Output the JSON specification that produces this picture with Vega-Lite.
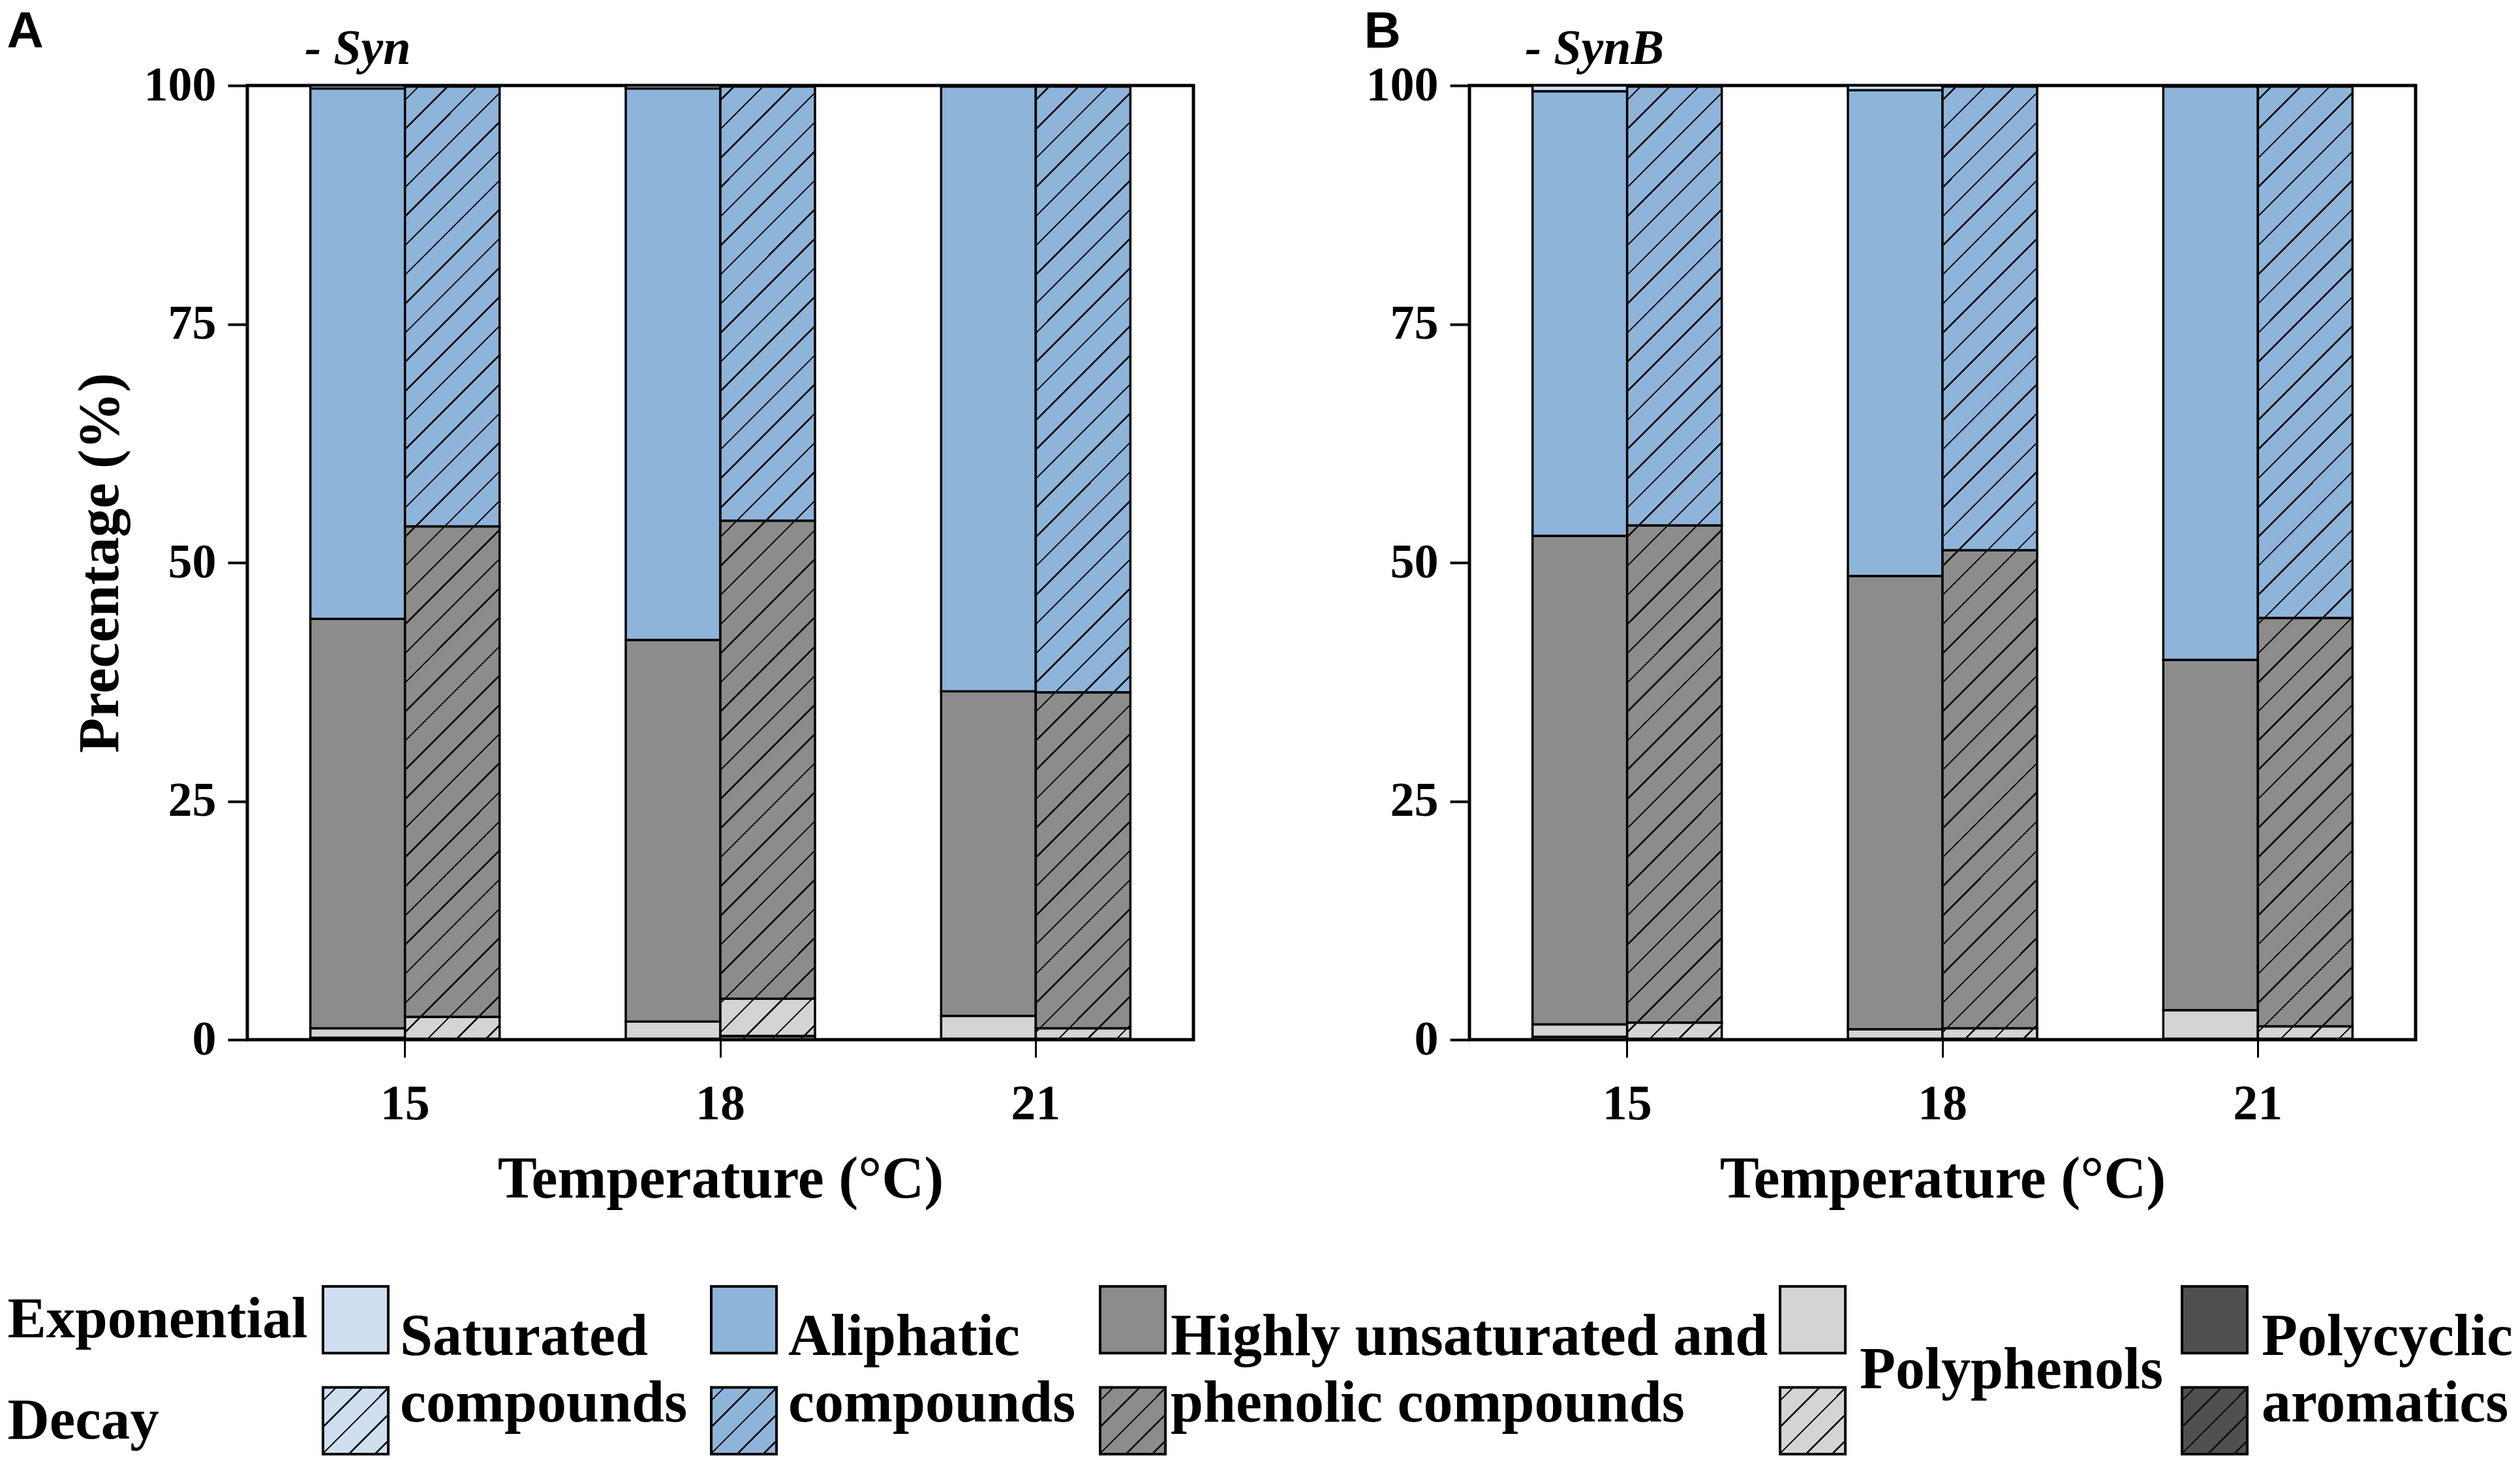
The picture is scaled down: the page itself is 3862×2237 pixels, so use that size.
{
  "$schema": "https://vega.github.io/schema/vega-lite/v6.json",
  "background": "white",
  "padding": {"left": 10, "top": 10, "right": 0, "bottom": 0},
  "datasets": {
    "comp": [
      {"panel": "A", "temp": "15", "phase": "Exponential", "compound": "Polycyclic aromatics", "value": 0.2},
      {"panel": "A", "temp": "15", "phase": "Exponential", "compound": "Polyphenols", "value": 1.0},
      {"panel": "A", "temp": "15", "phase": "Exponential", "compound": "Highly unsaturated and phenolic compounds", "value": 42.9},
      {"panel": "A", "temp": "15", "phase": "Exponential", "compound": "Aliphatic compounds", "value": 55.6},
      {"panel": "A", "temp": "15", "phase": "Exponential", "compound": "Saturated compounds", "value": 0.3},
      {"panel": "A", "temp": "15", "phase": "Decay", "compound": "Polycyclic aromatics", "value": 0.1},
      {"panel": "A", "temp": "15", "phase": "Decay", "compound": "Polyphenols", "value": 2.3},
      {"panel": "A", "temp": "15", "phase": "Decay", "compound": "Highly unsaturated and phenolic compounds", "value": 51.4},
      {"panel": "A", "temp": "15", "phase": "Decay", "compound": "Aliphatic compounds", "value": 46.1},
      {"panel": "A", "temp": "15", "phase": "Decay", "compound": "Saturated compounds", "value": 0.1},
      {"panel": "A", "temp": "18", "phase": "Exponential", "compound": "Polycyclic aromatics", "value": 0.1},
      {"panel": "A", "temp": "18", "phase": "Exponential", "compound": "Polyphenols", "value": 1.8},
      {"panel": "A", "temp": "18", "phase": "Exponential", "compound": "Highly unsaturated and phenolic compounds", "value": 40.0},
      {"panel": "A", "temp": "18", "phase": "Exponential", "compound": "Aliphatic compounds", "value": 57.8},
      {"panel": "A", "temp": "18", "phase": "Exponential", "compound": "Saturated compounds", "value": 0.3},
      {"panel": "A", "temp": "18", "phase": "Decay", "compound": "Polycyclic aromatics", "value": 0.4},
      {"panel": "A", "temp": "18", "phase": "Decay", "compound": "Polyphenols", "value": 3.9},
      {"panel": "A", "temp": "18", "phase": "Decay", "compound": "Highly unsaturated and phenolic compounds", "value": 50.1},
      {"panel": "A", "temp": "18", "phase": "Decay", "compound": "Aliphatic compounds", "value": 45.5},
      {"panel": "A", "temp": "18", "phase": "Decay", "compound": "Saturated compounds", "value": 0.1},
      {"panel": "A", "temp": "21", "phase": "Exponential", "compound": "Polycyclic aromatics", "value": 0.1},
      {"panel": "A", "temp": "21", "phase": "Exponential", "compound": "Polyphenols", "value": 2.4},
      {"panel": "A", "temp": "21", "phase": "Exponential", "compound": "Highly unsaturated and phenolic compounds", "value": 34.0},
      {"panel": "A", "temp": "21", "phase": "Exponential", "compound": "Aliphatic compounds", "value": 63.4},
      {"panel": "A", "temp": "21", "phase": "Exponential", "compound": "Saturated compounds", "value": 0.1},
      {"panel": "A", "temp": "21", "phase": "Decay", "compound": "Polycyclic aromatics", "value": 0.1},
      {"panel": "A", "temp": "21", "phase": "Decay", "compound": "Polyphenols", "value": 1.1},
      {"panel": "A", "temp": "21", "phase": "Decay", "compound": "Highly unsaturated and phenolic compounds", "value": 35.2},
      {"panel": "A", "temp": "21", "phase": "Decay", "compound": "Aliphatic compounds", "value": 63.5},
      {"panel": "A", "temp": "21", "phase": "Decay", "compound": "Saturated compounds", "value": 0.1},
      {"panel": "B", "temp": "15", "phase": "Exponential", "compound": "Polycyclic aromatics", "value": 0.3},
      {"panel": "B", "temp": "15", "phase": "Exponential", "compound": "Polyphenols", "value": 1.3},
      {"panel": "B", "temp": "15", "phase": "Exponential", "compound": "Highly unsaturated and phenolic compounds", "value": 51.2},
      {"panel": "B", "temp": "15", "phase": "Exponential", "compound": "Aliphatic compounds", "value": 46.6},
      {"panel": "B", "temp": "15", "phase": "Exponential", "compound": "Saturated compounds", "value": 0.6},
      {"panel": "B", "temp": "15", "phase": "Decay", "compound": "Polycyclic aromatics", "value": 0.1},
      {"panel": "B", "temp": "15", "phase": "Decay", "compound": "Polyphenols", "value": 1.7},
      {"panel": "B", "temp": "15", "phase": "Decay", "compound": "Highly unsaturated and phenolic compounds", "value": 52.1},
      {"panel": "B", "temp": "15", "phase": "Decay", "compound": "Aliphatic compounds", "value": 46.0},
      {"panel": "B", "temp": "15", "phase": "Decay", "compound": "Saturated compounds", "value": 0.1},
      {"panel": "B", "temp": "18", "phase": "Exponential", "compound": "Polycyclic aromatics", "value": 0.1},
      {"panel": "B", "temp": "18", "phase": "Exponential", "compound": "Polyphenols", "value": 1.0},
      {"panel": "B", "temp": "18", "phase": "Exponential", "compound": "Highly unsaturated and phenolic compounds", "value": 47.5},
      {"panel": "B", "temp": "18", "phase": "Exponential", "compound": "Aliphatic compounds", "value": 50.9},
      {"panel": "B", "temp": "18", "phase": "Exponential", "compound": "Saturated compounds", "value": 0.5},
      {"panel": "B", "temp": "18", "phase": "Decay", "compound": "Polycyclic aromatics", "value": 0.1},
      {"panel": "B", "temp": "18", "phase": "Decay", "compound": "Polyphenols", "value": 1.1},
      {"panel": "B", "temp": "18", "phase": "Decay", "compound": "Highly unsaturated and phenolic compounds", "value": 50.1},
      {"panel": "B", "temp": "18", "phase": "Decay", "compound": "Aliphatic compounds", "value": 48.6},
      {"panel": "B", "temp": "18", "phase": "Decay", "compound": "Saturated compounds", "value": 0.1},
      {"panel": "B", "temp": "21", "phase": "Exponential", "compound": "Polycyclic aromatics", "value": 0.1},
      {"panel": "B", "temp": "21", "phase": "Exponential", "compound": "Polyphenols", "value": 3.0},
      {"panel": "B", "temp": "21", "phase": "Exponential", "compound": "Highly unsaturated and phenolic compounds", "value": 36.7},
      {"panel": "B", "temp": "21", "phase": "Exponential", "compound": "Aliphatic compounds", "value": 60.1},
      {"panel": "B", "temp": "21", "phase": "Exponential", "compound": "Saturated compounds", "value": 0.1},
      {"panel": "B", "temp": "21", "phase": "Decay", "compound": "Polycyclic aromatics", "value": 0.1},
      {"panel": "B", "temp": "21", "phase": "Decay", "compound": "Polyphenols", "value": 1.3},
      {"panel": "B", "temp": "21", "phase": "Decay", "compound": "Highly unsaturated and phenolic compounds", "value": 42.8},
      {"panel": "B", "temp": "21", "phase": "Decay", "compound": "Aliphatic compounds", "value": 55.7},
      {"panel": "B", "temp": "21", "phase": "Decay", "compound": "Saturated compounds", "value": 0.1}
    ],
    "legend": [
      {"compound": "Saturated compounds", "phase": "Exponential"},
      {"compound": "Saturated compounds", "phase": "Decay"},
      {"compound": "Aliphatic compounds", "phase": "Exponential"},
      {"compound": "Aliphatic compounds", "phase": "Decay"},
      {"compound": "Highly unsaturated and phenolic compounds", "phase": "Exponential"},
      {"compound": "Highly unsaturated and phenolic compounds", "phase": "Decay"},
      {"compound": "Polyphenols", "phase": "Exponential"},
      {"compound": "Polyphenols", "phase": "Decay"},
      {"compound": "Polycyclic aromatics", "phase": "Exponential"},
      {"compound": "Polycyclic aromatics", "phase": "Decay"}
    ]
  },
  "config": {
    "font": "Liberation Serif",
    "view": {"stroke": null},
    "axis": {
      "labelFont": "Liberation Serif", "titleFont": "Liberation Serif",
      "labelFontWeight": "bold", "titleFontWeight": "bold",
      "labelColor": "black", "titleColor": "black", "tickColor": "black",
      "domain": false, "grid": false
    },
    "axisX": {"tickSize": 27, "tickWidth": 3, "labelFontSize": 76, "labelPadding": 34, "labelAngle": 0, "titleFontSize": 90, "titlePadding": 34},
    "axisY": {"tickSize": 30, "tickWidth": 4, "labelFontSize": 74, "labelPadding": 18, "titleFontSize": 88, "titlePadding": 22},
    "text": {"font": "Liberation Serif", "fontWeight": "bold", "fontSize": 90, "color": "black"}
  },
  "columns": 1,
  "align": "none",
  "spacing": 114,
  "concat": [
    {
      "spacing": 258,
      "hconcat": [
        {
          "title": {"text": "A", "anchor": "start", "frame": "bounds", "dx": -97, "offset": -116, "font": "Liberation Sans", "fontSize": 78, "fontWeight": "bold", "baseline": "alphabetic", "color": "black"},
          "hconcat": [
            {
              "width": 1450, "height": 1462,
              "view": {"stroke": "black", "strokeWidth": 5},
              "title": {"text": "- Syn", "anchor": "start", "frame": "group", "dx": 88, "offset": -80, "font": "Liberation Serif", "fontStyle": "italic", "fontWeight": "bold", "fontSize": 76, "baseline": "alphabetic", "color": "black"},
              "data": {"name": "comp"},
              "transform": [
                {"filter": "datum.panel === 'A'"},
                {"calculate": "indexof(['Polycyclic aromatics', 'Polyphenols', 'Highly unsaturated and phenolic compounds', 'Aliphatic compounds', 'Saturated compounds'], datum.compound)", "as": "stackOrder"}
              ],
              "encoding": {
                "x": {"field": "temp", "type": "nominal", "sort": ["15", "18", "21"], "title": "Temperature (°C)", "scale": {"paddingInner": 0.4, "paddingOuter": 0.2}},
                "xOffset": {"field": "phase", "type": "nominal", "sort": ["Exponential", "Decay"], "scale": {"domain": ["Exponential", "Decay"], "paddingInner": 0, "paddingOuter": 0}}
              },
              "layer": [
                {
                  "mark": {"type": "bar", "stroke": "black", "strokeWidth": 3.5},
                  "encoding": {
                    "y": {"field": "value", "type": "quantitative", "stack": "zero", "title": "Precentage (%)", "scale": {"domain": [0, 100], "nice": false}, "axis": {"values": [0, 25, 50, 75, 100]}},
                    "fill": {"field": "compound", "type": "nominal", "legend": null, "scale": {"domain": ["Saturated compounds", "Aliphatic compounds", "Highly unsaturated and phenolic compounds", "Polyphenols", "Polycyclic aromatics"], "range": ["#CFDFF0", "#8FB4DA", "#8C8C8C", "#D4D4D4", "#505050"]}},
                    "order": {"field": "stackOrder", "type": "quantitative", "sort": "ascending"}
                  }
                },
                {
                  "transform": [
                    {"filter": "datum.phase === 'Decay'"},
                    {"aggregate": [{"op": "sum", "field": "value", "as": "total"}], "groupby": ["temp", "phase"]}
                  ],
                  "mark": {"type": "bar", "strokeWidth": 0, "fill": {"gradient": "linear", "x1": 0, "y1": 0, "x2": 0.108, "y2": 1.0885, "stops": [
                    {"offset": 0.01279, "color": "rgba(0,0,0,0)"}, {"offset": 0.01279, "color": "#111"}, {"offset": 0.01499, "color": "#111"}, {"offset": 0.01499, "color": "rgba(0,0,0,0)"},
                    {"offset": 0.04057, "color": "rgba(0,0,0,0)"}, {"offset": 0.04057, "color": "#111"}, {"offset": 0.04277, "color": "#111"}, {"offset": 0.04277, "color": "rgba(0,0,0,0)"},
                    {"offset": 0.06834, "color": "rgba(0,0,0,0)"}, {"offset": 0.06834, "color": "#111"}, {"offset": 0.07054, "color": "#111"}, {"offset": 0.07054, "color": "rgba(0,0,0,0)"},
                    {"offset": 0.09612, "color": "rgba(0,0,0,0)"}, {"offset": 0.09612, "color": "#111"}, {"offset": 0.09832, "color": "#111"}, {"offset": 0.09832, "color": "rgba(0,0,0,0)"},
                    {"offset": 0.12390, "color": "rgba(0,0,0,0)"}, {"offset": 0.12390, "color": "#111"}, {"offset": 0.12610, "color": "#111"}, {"offset": 0.12610, "color": "rgba(0,0,0,0)"},
                    {"offset": 0.15168, "color": "rgba(0,0,0,0)"}, {"offset": 0.15168, "color": "#111"}, {"offset": 0.15388, "color": "#111"}, {"offset": 0.15388, "color": "rgba(0,0,0,0)"},
                    {"offset": 0.17946, "color": "rgba(0,0,0,0)"}, {"offset": 0.17946, "color": "#111"}, {"offset": 0.18166, "color": "#111"}, {"offset": 0.18166, "color": "rgba(0,0,0,0)"},
                    {"offset": 0.20723, "color": "rgba(0,0,0,0)"}, {"offset": 0.20723, "color": "#111"}, {"offset": 0.20943, "color": "#111"}, {"offset": 0.20943, "color": "rgba(0,0,0,0)"},
                    {"offset": 0.23501, "color": "rgba(0,0,0,0)"}, {"offset": 0.23501, "color": "#111"}, {"offset": 0.23721, "color": "#111"}, {"offset": 0.23721, "color": "rgba(0,0,0,0)"},
                    {"offset": 0.26279, "color": "rgba(0,0,0,0)"}, {"offset": 0.26279, "color": "#111"}, {"offset": 0.26499, "color": "#111"}, {"offset": 0.26499, "color": "rgba(0,0,0,0)"},
                    {"offset": 0.29057, "color": "rgba(0,0,0,0)"}, {"offset": 0.29057, "color": "#111"}, {"offset": 0.29277, "color": "#111"}, {"offset": 0.29277, "color": "rgba(0,0,0,0)"},
                    {"offset": 0.31834, "color": "rgba(0,0,0,0)"}, {"offset": 0.31834, "color": "#111"}, {"offset": 0.32054, "color": "#111"}, {"offset": 0.32054, "color": "rgba(0,0,0,0)"},
                    {"offset": 0.34612, "color": "rgba(0,0,0,0)"}, {"offset": 0.34612, "color": "#111"}, {"offset": 0.34832, "color": "#111"}, {"offset": 0.34832, "color": "rgba(0,0,0,0)"},
                    {"offset": 0.37390, "color": "rgba(0,0,0,0)"}, {"offset": 0.37390, "color": "#111"}, {"offset": 0.37610, "color": "#111"}, {"offset": 0.37610, "color": "rgba(0,0,0,0)"},
                    {"offset": 0.40168, "color": "rgba(0,0,0,0)"}, {"offset": 0.40168, "color": "#111"}, {"offset": 0.40388, "color": "#111"}, {"offset": 0.40388, "color": "rgba(0,0,0,0)"},
                    {"offset": 0.42946, "color": "rgba(0,0,0,0)"}, {"offset": 0.42946, "color": "#111"}, {"offset": 0.43166, "color": "#111"}, {"offset": 0.43166, "color": "rgba(0,0,0,0)"},
                    {"offset": 0.45723, "color": "rgba(0,0,0,0)"}, {"offset": 0.45723, "color": "#111"}, {"offset": 0.45943, "color": "#111"}, {"offset": 0.45943, "color": "rgba(0,0,0,0)"},
                    {"offset": 0.48501, "color": "rgba(0,0,0,0)"}, {"offset": 0.48501, "color": "#111"}, {"offset": 0.48721, "color": "#111"}, {"offset": 0.48721, "color": "rgba(0,0,0,0)"},
                    {"offset": 0.51279, "color": "rgba(0,0,0,0)"}, {"offset": 0.51279, "color": "#111"}, {"offset": 0.51499, "color": "#111"}, {"offset": 0.51499, "color": "rgba(0,0,0,0)"},
                    {"offset": 0.54057, "color": "rgba(0,0,0,0)"}, {"offset": 0.54057, "color": "#111"}, {"offset": 0.54277, "color": "#111"}, {"offset": 0.54277, "color": "rgba(0,0,0,0)"},
                    {"offset": 0.56834, "color": "rgba(0,0,0,0)"}, {"offset": 0.56834, "color": "#111"}, {"offset": 0.57054, "color": "#111"}, {"offset": 0.57054, "color": "rgba(0,0,0,0)"},
                    {"offset": 0.59612, "color": "rgba(0,0,0,0)"}, {"offset": 0.59612, "color": "#111"}, {"offset": 0.59832, "color": "#111"}, {"offset": 0.59832, "color": "rgba(0,0,0,0)"},
                    {"offset": 0.62390, "color": "rgba(0,0,0,0)"}, {"offset": 0.62390, "color": "#111"}, {"offset": 0.62610, "color": "#111"}, {"offset": 0.62610, "color": "rgba(0,0,0,0)"},
                    {"offset": 0.65168, "color": "rgba(0,0,0,0)"}, {"offset": 0.65168, "color": "#111"}, {"offset": 0.65388, "color": "#111"}, {"offset": 0.65388, "color": "rgba(0,0,0,0)"},
                    {"offset": 0.67946, "color": "rgba(0,0,0,0)"}, {"offset": 0.67946, "color": "#111"}, {"offset": 0.68166, "color": "#111"}, {"offset": 0.68166, "color": "rgba(0,0,0,0)"},
                    {"offset": 0.70723, "color": "rgba(0,0,0,0)"}, {"offset": 0.70723, "color": "#111"}, {"offset": 0.70943, "color": "#111"}, {"offset": 0.70943, "color": "rgba(0,0,0,0)"},
                    {"offset": 0.73501, "color": "rgba(0,0,0,0)"}, {"offset": 0.73501, "color": "#111"}, {"offset": 0.73721, "color": "#111"}, {"offset": 0.73721, "color": "rgba(0,0,0,0)"},
                    {"offset": 0.76279, "color": "rgba(0,0,0,0)"}, {"offset": 0.76279, "color": "#111"}, {"offset": 0.76499, "color": "#111"}, {"offset": 0.76499, "color": "rgba(0,0,0,0)"},
                    {"offset": 0.79057, "color": "rgba(0,0,0,0)"}, {"offset": 0.79057, "color": "#111"}, {"offset": 0.79277, "color": "#111"}, {"offset": 0.79277, "color": "rgba(0,0,0,0)"},
                    {"offset": 0.81834, "color": "rgba(0,0,0,0)"}, {"offset": 0.81834, "color": "#111"}, {"offset": 0.82054, "color": "#111"}, {"offset": 0.82054, "color": "rgba(0,0,0,0)"},
                    {"offset": 0.84612, "color": "rgba(0,0,0,0)"}, {"offset": 0.84612, "color": "#111"}, {"offset": 0.84832, "color": "#111"}, {"offset": 0.84832, "color": "rgba(0,0,0,0)"},
                    {"offset": 0.87390, "color": "rgba(0,0,0,0)"}, {"offset": 0.87390, "color": "#111"}, {"offset": 0.87610, "color": "#111"}, {"offset": 0.87610, "color": "rgba(0,0,0,0)"},
                    {"offset": 0.90168, "color": "rgba(0,0,0,0)"}, {"offset": 0.90168, "color": "#111"}, {"offset": 0.90388, "color": "#111"}, {"offset": 0.90388, "color": "rgba(0,0,0,0)"},
                    {"offset": 0.92946, "color": "rgba(0,0,0,0)"}, {"offset": 0.92946, "color": "#111"}, {"offset": 0.93166, "color": "#111"}, {"offset": 0.93166, "color": "rgba(0,0,0,0)"},
                    {"offset": 0.95723, "color": "rgba(0,0,0,0)"}, {"offset": 0.95723, "color": "#111"}, {"offset": 0.95943, "color": "#111"}, {"offset": 0.95943, "color": "rgba(0,0,0,0)"},
                    {"offset": 0.98501, "color": "rgba(0,0,0,0)"}, {"offset": 0.98501, "color": "#111"}, {"offset": 0.98721, "color": "#111"}, {"offset": 0.98721, "color": "rgba(0,0,0,0)"}
                  ]}},
                  "encoding": {
                    "y": {"field": "total", "type": "quantitative", "title": "Precentage (%)", "scale": {"domain": [0, 100], "nice": false}, "axis": {"values": [0, 25, 50, 75, 100]}}
                  }
                }
              ]
            }
          ]
        },
        {
          "title": {"text": "B", "anchor": "start", "frame": "bounds", "dx": 0, "offset": -116, "font": "Liberation Sans", "fontSize": 78, "fontWeight": "bold", "baseline": "alphabetic", "color": "black"},
          "hconcat": [
            {
              "width": 1450, "height": 1462,
              "view": {"stroke": "black", "strokeWidth": 5},
              "title": {"text": "- SynB", "anchor": "start", "frame": "group", "dx": 85, "offset": -80, "font": "Liberation Serif", "fontStyle": "italic", "fontWeight": "bold", "fontSize": 76, "baseline": "alphabetic", "color": "black"},
              "data": {"name": "comp"},
              "transform": [
                {"filter": "datum.panel === 'B'"},
                {"calculate": "indexof(['Polycyclic aromatics', 'Polyphenols', 'Highly unsaturated and phenolic compounds', 'Aliphatic compounds', 'Saturated compounds'], datum.compound)", "as": "stackOrder"}
              ],
              "encoding": {
                "x": {"field": "temp", "type": "nominal", "sort": ["15", "18", "21"], "title": "Temperature (°C)", "scale": {"paddingInner": 0.4, "paddingOuter": 0.2}},
                "xOffset": {"field": "phase", "type": "nominal", "sort": ["Exponential", "Decay"], "scale": {"domain": ["Exponential", "Decay"], "paddingInner": 0, "paddingOuter": 0}}
              },
              "layer": [
                {
                  "mark": {"type": "bar", "stroke": "black", "strokeWidth": 3.5},
                  "encoding": {
                    "y": {"field": "value", "type": "quantitative", "stack": "zero", "title": null, "scale": {"domain": [0, 100], "nice": false}, "axis": {"values": [0, 25, 50, 75, 100]}},
                    "fill": {"field": "compound", "type": "nominal", "legend": null, "scale": {"domain": ["Saturated compounds", "Aliphatic compounds", "Highly unsaturated and phenolic compounds", "Polyphenols", "Polycyclic aromatics"], "range": ["#CFDFF0", "#8FB4DA", "#8C8C8C", "#D4D4D4", "#505050"]}},
                    "order": {"field": "stackOrder", "type": "quantitative", "sort": "ascending"}
                  }
                },
                {
                  "transform": [
                    {"filter": "datum.phase === 'Decay'"},
                    {"aggregate": [{"op": "sum", "field": "value", "as": "total"}], "groupby": ["temp", "phase"]}
                  ],
                  "mark": {"type": "bar", "strokeWidth": 0, "fill": {"gradient": "linear", "x1": 0, "y1": 0, "x2": 0.108, "y2": 1.0885, "stops": [
                    {"offset": 0.01279, "color": "rgba(0,0,0,0)"}, {"offset": 0.01279, "color": "#111"}, {"offset": 0.01499, "color": "#111"}, {"offset": 0.01499, "color": "rgba(0,0,0,0)"},
                    {"offset": 0.04057, "color": "rgba(0,0,0,0)"}, {"offset": 0.04057, "color": "#111"}, {"offset": 0.04277, "color": "#111"}, {"offset": 0.04277, "color": "rgba(0,0,0,0)"},
                    {"offset": 0.06834, "color": "rgba(0,0,0,0)"}, {"offset": 0.06834, "color": "#111"}, {"offset": 0.07054, "color": "#111"}, {"offset": 0.07054, "color": "rgba(0,0,0,0)"},
                    {"offset": 0.09612, "color": "rgba(0,0,0,0)"}, {"offset": 0.09612, "color": "#111"}, {"offset": 0.09832, "color": "#111"}, {"offset": 0.09832, "color": "rgba(0,0,0,0)"},
                    {"offset": 0.12390, "color": "rgba(0,0,0,0)"}, {"offset": 0.12390, "color": "#111"}, {"offset": 0.12610, "color": "#111"}, {"offset": 0.12610, "color": "rgba(0,0,0,0)"},
                    {"offset": 0.15168, "color": "rgba(0,0,0,0)"}, {"offset": 0.15168, "color": "#111"}, {"offset": 0.15388, "color": "#111"}, {"offset": 0.15388, "color": "rgba(0,0,0,0)"},
                    {"offset": 0.17946, "color": "rgba(0,0,0,0)"}, {"offset": 0.17946, "color": "#111"}, {"offset": 0.18166, "color": "#111"}, {"offset": 0.18166, "color": "rgba(0,0,0,0)"},
                    {"offset": 0.20723, "color": "rgba(0,0,0,0)"}, {"offset": 0.20723, "color": "#111"}, {"offset": 0.20943, "color": "#111"}, {"offset": 0.20943, "color": "rgba(0,0,0,0)"},
                    {"offset": 0.23501, "color": "rgba(0,0,0,0)"}, {"offset": 0.23501, "color": "#111"}, {"offset": 0.23721, "color": "#111"}, {"offset": 0.23721, "color": "rgba(0,0,0,0)"},
                    {"offset": 0.26279, "color": "rgba(0,0,0,0)"}, {"offset": 0.26279, "color": "#111"}, {"offset": 0.26499, "color": "#111"}, {"offset": 0.26499, "color": "rgba(0,0,0,0)"},
                    {"offset": 0.29057, "color": "rgba(0,0,0,0)"}, {"offset": 0.29057, "color": "#111"}, {"offset": 0.29277, "color": "#111"}, {"offset": 0.29277, "color": "rgba(0,0,0,0)"},
                    {"offset": 0.31834, "color": "rgba(0,0,0,0)"}, {"offset": 0.31834, "color": "#111"}, {"offset": 0.32054, "color": "#111"}, {"offset": 0.32054, "color": "rgba(0,0,0,0)"},
                    {"offset": 0.34612, "color": "rgba(0,0,0,0)"}, {"offset": 0.34612, "color": "#111"}, {"offset": 0.34832, "color": "#111"}, {"offset": 0.34832, "color": "rgba(0,0,0,0)"},
                    {"offset": 0.37390, "color": "rgba(0,0,0,0)"}, {"offset": 0.37390, "color": "#111"}, {"offset": 0.37610, "color": "#111"}, {"offset": 0.37610, "color": "rgba(0,0,0,0)"},
                    {"offset": 0.40168, "color": "rgba(0,0,0,0)"}, {"offset": 0.40168, "color": "#111"}, {"offset": 0.40388, "color": "#111"}, {"offset": 0.40388, "color": "rgba(0,0,0,0)"},
                    {"offset": 0.42946, "color": "rgba(0,0,0,0)"}, {"offset": 0.42946, "color": "#111"}, {"offset": 0.43166, "color": "#111"}, {"offset": 0.43166, "color": "rgba(0,0,0,0)"},
                    {"offset": 0.45723, "color": "rgba(0,0,0,0)"}, {"offset": 0.45723, "color": "#111"}, {"offset": 0.45943, "color": "#111"}, {"offset": 0.45943, "color": "rgba(0,0,0,0)"},
                    {"offset": 0.48501, "color": "rgba(0,0,0,0)"}, {"offset": 0.48501, "color": "#111"}, {"offset": 0.48721, "color": "#111"}, {"offset": 0.48721, "color": "rgba(0,0,0,0)"},
                    {"offset": 0.51279, "color": "rgba(0,0,0,0)"}, {"offset": 0.51279, "color": "#111"}, {"offset": 0.51499, "color": "#111"}, {"offset": 0.51499, "color": "rgba(0,0,0,0)"},
                    {"offset": 0.54057, "color": "rgba(0,0,0,0)"}, {"offset": 0.54057, "color": "#111"}, {"offset": 0.54277, "color": "#111"}, {"offset": 0.54277, "color": "rgba(0,0,0,0)"},
                    {"offset": 0.56834, "color": "rgba(0,0,0,0)"}, {"offset": 0.56834, "color": "#111"}, {"offset": 0.57054, "color": "#111"}, {"offset": 0.57054, "color": "rgba(0,0,0,0)"},
                    {"offset": 0.59612, "color": "rgba(0,0,0,0)"}, {"offset": 0.59612, "color": "#111"}, {"offset": 0.59832, "color": "#111"}, {"offset": 0.59832, "color": "rgba(0,0,0,0)"},
                    {"offset": 0.62390, "color": "rgba(0,0,0,0)"}, {"offset": 0.62390, "color": "#111"}, {"offset": 0.62610, "color": "#111"}, {"offset": 0.62610, "color": "rgba(0,0,0,0)"},
                    {"offset": 0.65168, "color": "rgba(0,0,0,0)"}, {"offset": 0.65168, "color": "#111"}, {"offset": 0.65388, "color": "#111"}, {"offset": 0.65388, "color": "rgba(0,0,0,0)"},
                    {"offset": 0.67946, "color": "rgba(0,0,0,0)"}, {"offset": 0.67946, "color": "#111"}, {"offset": 0.68166, "color": "#111"}, {"offset": 0.68166, "color": "rgba(0,0,0,0)"},
                    {"offset": 0.70723, "color": "rgba(0,0,0,0)"}, {"offset": 0.70723, "color": "#111"}, {"offset": 0.70943, "color": "#111"}, {"offset": 0.70943, "color": "rgba(0,0,0,0)"},
                    {"offset": 0.73501, "color": "rgba(0,0,0,0)"}, {"offset": 0.73501, "color": "#111"}, {"offset": 0.73721, "color": "#111"}, {"offset": 0.73721, "color": "rgba(0,0,0,0)"},
                    {"offset": 0.76279, "color": "rgba(0,0,0,0)"}, {"offset": 0.76279, "color": "#111"}, {"offset": 0.76499, "color": "#111"}, {"offset": 0.76499, "color": "rgba(0,0,0,0)"},
                    {"offset": 0.79057, "color": "rgba(0,0,0,0)"}, {"offset": 0.79057, "color": "#111"}, {"offset": 0.79277, "color": "#111"}, {"offset": 0.79277, "color": "rgba(0,0,0,0)"},
                    {"offset": 0.81834, "color": "rgba(0,0,0,0)"}, {"offset": 0.81834, "color": "#111"}, {"offset": 0.82054, "color": "#111"}, {"offset": 0.82054, "color": "rgba(0,0,0,0)"},
                    {"offset": 0.84612, "color": "rgba(0,0,0,0)"}, {"offset": 0.84612, "color": "#111"}, {"offset": 0.84832, "color": "#111"}, {"offset": 0.84832, "color": "rgba(0,0,0,0)"},
                    {"offset": 0.87390, "color": "rgba(0,0,0,0)"}, {"offset": 0.87390, "color": "#111"}, {"offset": 0.87610, "color": "#111"}, {"offset": 0.87610, "color": "rgba(0,0,0,0)"},
                    {"offset": 0.90168, "color": "rgba(0,0,0,0)"}, {"offset": 0.90168, "color": "#111"}, {"offset": 0.90388, "color": "#111"}, {"offset": 0.90388, "color": "rgba(0,0,0,0)"},
                    {"offset": 0.92946, "color": "rgba(0,0,0,0)"}, {"offset": 0.92946, "color": "#111"}, {"offset": 0.93166, "color": "#111"}, {"offset": 0.93166, "color": "rgba(0,0,0,0)"},
                    {"offset": 0.95723, "color": "rgba(0,0,0,0)"}, {"offset": 0.95723, "color": "#111"}, {"offset": 0.95943, "color": "#111"}, {"offset": 0.95943, "color": "rgba(0,0,0,0)"},
                    {"offset": 0.98501, "color": "rgba(0,0,0,0)"}, {"offset": 0.98501, "color": "#111"}, {"offset": 0.98721, "color": "#111"}, {"offset": 0.98721, "color": "rgba(0,0,0,0)"}
                  ]}},
                  "encoding": {
                    "y": {"field": "total", "type": "quantitative", "title": null, "scale": {"domain": [0, 100], "nice": false}, "axis": {"values": [0, 25, 50, 75, 100]}}
                  }
                }
              ]
            }
          ]
        }
      ]
    },
    {
      "spacing": 0,
      "bounds": "flush",
      "hconcat": [
        {
          "width": 711, "height": 257,
          "data": {"name": "legend"},
          "transform": [{"filter": "datum.compound === 'Saturated compounds'"}],
          "encoding": {
            "x": {"field": "compound", "type": "nominal", "axis": null, "scale": {"range": [116, 216], "paddingInner": 0, "paddingOuter": 0}}
          },
          "layer": [
            {"mark": {"type": "rect", "fill": "#CFDFF0", "stroke": "black", "strokeWidth": 4},
             "encoding": {"y": {"field": "phase", "type": "nominal", "sort": ["Exponential", "Decay"], "title": null, "scale": {"paddingInner": 0.34, "paddingOuter": 0},
               "axis": {"labelAlign": "left", "labelBaseline": "middle", "labelPadding": 368, "labelLimit": 0, "ticks": false, "tickSize": 0, "domain": false, "labelFontSize": 89, "labelFont": "Liberation Serif", "labelFontWeight": "bold"}}}},
            {"transform": [{"filter": "datum.phase === 'Decay'"}],
             "mark": {"type": "rect", "strokeWidth": 0, "fill": {"gradient": "linear", "x1": 0, "y1": 0, "x2": 0.9896, "y2": 1.0098, "stops": [
               {"offset": 0.0909, "color": "rgba(0,0,0,0)"}, {"offset": 0.0909, "color": "#111"}, {"offset": 0.1091, "color": "#111"}, {"offset": 0.1091, "color": "rgba(0,0,0,0)"},
               {"offset": 0.2909, "color": "rgba(0,0,0,0)"}, {"offset": 0.2909, "color": "#111"}, {"offset": 0.3091, "color": "#111"}, {"offset": 0.3091, "color": "rgba(0,0,0,0)"},
               {"offset": 0.4909, "color": "rgba(0,0,0,0)"}, {"offset": 0.4909, "color": "#111"}, {"offset": 0.5091, "color": "#111"}, {"offset": 0.5091, "color": "rgba(0,0,0,0)"},
               {"offset": 0.6909, "color": "rgba(0,0,0,0)"}, {"offset": 0.6909, "color": "#111"}, {"offset": 0.7091, "color": "#111"}, {"offset": 0.7091, "color": "rgba(0,0,0,0)"},
               {"offset": 0.8909, "color": "rgba(0,0,0,0)"}, {"offset": 0.8909, "color": "#111"}, {"offset": 0.9091, "color": "#111"}, {"offset": 0.9091, "color": "rgba(0,0,0,0)"}
             ]}},
             "encoding": {"y": {"field": "phase", "type": "nominal", "sort": ["Exponential", "Decay"], "title": null, "scale": {"paddingInner": 0.34, "paddingOuter": 0},
               "axis": {"labelAlign": "left", "labelBaseline": "middle", "labelPadding": 368, "labelLimit": 0, "ticks": false, "tickSize": 0, "domain": false, "labelFontSize": 89, "labelFont": "Liberation Serif", "labelFontWeight": "bold"}}}},
            {"transform": [{"filter": "datum.phase === 'Exponential'"}],
             "mark": {"type": "text", "align": "left", "baseline": "middle", "dx": 18, "dy": -51, "lineHeight": 102, "text": ["Saturated", "compounds"]},
             "encoding": {"x": {"field": "compound", "type": "nominal", "bandPosition": 1}}}
          ]
        },
        {
          "width": 596, "height": 257,
          "data": {"name": "legend"},
          "transform": [{"filter": "datum.compound === 'Aliphatic compounds'"}],
          "encoding": {
            "x": {"field": "compound", "type": "nominal", "axis": null, "scale": {"range": [0, 100], "paddingInner": 0, "paddingOuter": 0}}
          },
          "layer": [
            {"mark": {"type": "rect", "fill": "#8FB4DA", "stroke": "black", "strokeWidth": 4},
             "encoding": {"y": {"field": "phase", "type": "nominal", "sort": ["Exponential", "Decay"], "axis": null, "scale": {"paddingInner": 0.34, "paddingOuter": 0}}}},
            {"transform": [{"filter": "datum.phase === 'Decay'"}],
             "mark": {"type": "rect", "strokeWidth": 0, "fill": {"gradient": "linear", "x1": 0, "y1": 0, "x2": 0.9896, "y2": 1.0098, "stops": [
               {"offset": 0.0909, "color": "rgba(0,0,0,0)"}, {"offset": 0.0909, "color": "#111"}, {"offset": 0.1091, "color": "#111"}, {"offset": 0.1091, "color": "rgba(0,0,0,0)"},
               {"offset": 0.2909, "color": "rgba(0,0,0,0)"}, {"offset": 0.2909, "color": "#111"}, {"offset": 0.3091, "color": "#111"}, {"offset": 0.3091, "color": "rgba(0,0,0,0)"},
               {"offset": 0.4909, "color": "rgba(0,0,0,0)"}, {"offset": 0.4909, "color": "#111"}, {"offset": 0.5091, "color": "#111"}, {"offset": 0.5091, "color": "rgba(0,0,0,0)"},
               {"offset": 0.6909, "color": "rgba(0,0,0,0)"}, {"offset": 0.6909, "color": "#111"}, {"offset": 0.7091, "color": "#111"}, {"offset": 0.7091, "color": "rgba(0,0,0,0)"},
               {"offset": 0.8909, "color": "rgba(0,0,0,0)"}, {"offset": 0.8909, "color": "#111"}, {"offset": 0.9091, "color": "#111"}, {"offset": 0.9091, "color": "rgba(0,0,0,0)"}
             ]}},
             "encoding": {"y": {"field": "phase", "type": "nominal", "sort": ["Exponential", "Decay"], "axis": null, "scale": {"paddingInner": 0.34, "paddingOuter": 0}}}},
            {"transform": [{"filter": "datum.phase === 'Exponential'"}],
             "mark": {"type": "text", "align": "left", "baseline": "middle", "dx": 18, "dy": -51, "lineHeight": 102, "text": ["Aliphatic", "compounds"]},
             "encoding": {"x": {"field": "compound", "type": "nominal", "bandPosition": 1}}}
          ]
        },
        {
          "width": 1042, "height": 257,
          "data": {"name": "legend"},
          "transform": [{"filter": "datum.compound === 'Highly unsaturated and phenolic compounds'"}],
          "encoding": {
            "x": {"field": "compound", "type": "nominal", "axis": null, "scale": {"range": [0, 100], "paddingInner": 0, "paddingOuter": 0}}
          },
          "layer": [
            {"mark": {"type": "rect", "fill": "#8C8C8C", "stroke": "black", "strokeWidth": 4},
             "encoding": {"y": {"field": "phase", "type": "nominal", "sort": ["Exponential", "Decay"], "axis": null, "scale": {"paddingInner": 0.34, "paddingOuter": 0}}}},
            {"transform": [{"filter": "datum.phase === 'Decay'"}],
             "mark": {"type": "rect", "strokeWidth": 0, "fill": {"gradient": "linear", "x1": 0, "y1": 0, "x2": 0.9896, "y2": 1.0098, "stops": [
               {"offset": 0.0909, "color": "rgba(0,0,0,0)"}, {"offset": 0.0909, "color": "#111"}, {"offset": 0.1091, "color": "#111"}, {"offset": 0.1091, "color": "rgba(0,0,0,0)"},
               {"offset": 0.2909, "color": "rgba(0,0,0,0)"}, {"offset": 0.2909, "color": "#111"}, {"offset": 0.3091, "color": "#111"}, {"offset": 0.3091, "color": "rgba(0,0,0,0)"},
               {"offset": 0.4909, "color": "rgba(0,0,0,0)"}, {"offset": 0.4909, "color": "#111"}, {"offset": 0.5091, "color": "#111"}, {"offset": 0.5091, "color": "rgba(0,0,0,0)"},
               {"offset": 0.6909, "color": "rgba(0,0,0,0)"}, {"offset": 0.6909, "color": "#111"}, {"offset": 0.7091, "color": "#111"}, {"offset": 0.7091, "color": "rgba(0,0,0,0)"},
               {"offset": 0.8909, "color": "rgba(0,0,0,0)"}, {"offset": 0.8909, "color": "#111"}, {"offset": 0.9091, "color": "#111"}, {"offset": 0.9091, "color": "rgba(0,0,0,0)"}
             ]}},
             "encoding": {"y": {"field": "phase", "type": "nominal", "sort": ["Exponential", "Decay"], "axis": null, "scale": {"paddingInner": 0.34, "paddingOuter": 0}}}},
            {"transform": [{"filter": "datum.phase === 'Exponential'"}],
             "mark": {"type": "text", "align": "left", "baseline": "middle", "dx": 8, "dy": -51, "lineHeight": 102, "text": ["Highly unsaturated and", "phenolic compounds"]},
             "encoding": {"x": {"field": "compound", "type": "nominal", "bandPosition": 1}}}
          ]
        },
        {
          "width": 616, "height": 257,
          "data": {"name": "legend"},
          "transform": [{"filter": "datum.compound === 'Polyphenols'"}],
          "encoding": {
            "x": {"field": "compound", "type": "nominal", "axis": null, "scale": {"range": [0, 100], "paddingInner": 0, "paddingOuter": 0}}
          },
          "layer": [
            {"mark": {"type": "rect", "fill": "#D4D4D4", "stroke": "black", "strokeWidth": 4},
             "encoding": {"y": {"field": "phase", "type": "nominal", "sort": ["Exponential", "Decay"], "axis": null, "scale": {"paddingInner": 0.34, "paddingOuter": 0}}}},
            {"transform": [{"filter": "datum.phase === 'Decay'"}],
             "mark": {"type": "rect", "strokeWidth": 0, "fill": {"gradient": "linear", "x1": 0, "y1": 0, "x2": 0.9896, "y2": 1.0098, "stops": [
               {"offset": 0.0909, "color": "rgba(0,0,0,0)"}, {"offset": 0.0909, "color": "#111"}, {"offset": 0.1091, "color": "#111"}, {"offset": 0.1091, "color": "rgba(0,0,0,0)"},
               {"offset": 0.2909, "color": "rgba(0,0,0,0)"}, {"offset": 0.2909, "color": "#111"}, {"offset": 0.3091, "color": "#111"}, {"offset": 0.3091, "color": "rgba(0,0,0,0)"},
               {"offset": 0.4909, "color": "rgba(0,0,0,0)"}, {"offset": 0.4909, "color": "#111"}, {"offset": 0.5091, "color": "#111"}, {"offset": 0.5091, "color": "rgba(0,0,0,0)"},
               {"offset": 0.6909, "color": "rgba(0,0,0,0)"}, {"offset": 0.6909, "color": "#111"}, {"offset": 0.7091, "color": "#111"}, {"offset": 0.7091, "color": "rgba(0,0,0,0)"},
               {"offset": 0.8909, "color": "rgba(0,0,0,0)"}, {"offset": 0.8909, "color": "#111"}, {"offset": 0.9091, "color": "#111"}, {"offset": 0.9091, "color": "rgba(0,0,0,0)"}
             ]}},
             "encoding": {"y": {"field": "phase", "type": "nominal", "sort": ["Exponential", "Decay"], "axis": null, "scale": {"paddingInner": 0.34, "paddingOuter": 0}}}},
            {"transform": [{"filter": "datum.phase === 'Exponential'"}],
             "mark": {"type": "text", "align": "left", "baseline": "middle", "dx": 22, "text": "Polyphenols"},
             "encoding": {"x": {"field": "compound", "type": "nominal", "bandPosition": 1}}}
          ]
        },
        {
          "width": 100, "height": 257,
          "data": {"name": "legend"},
          "transform": [{"filter": "datum.compound === 'Polycyclic aromatics'"}],
          "encoding": {
            "x": {"field": "compound", "type": "nominal", "axis": null, "scale": {"range": [0, 100], "paddingInner": 0, "paddingOuter": 0}}
          },
          "layer": [
            {"mark": {"type": "rect", "fill": "#505050", "stroke": "black", "strokeWidth": 4},
             "encoding": {"y": {"field": "phase", "type": "nominal", "sort": ["Exponential", "Decay"], "axis": null, "scale": {"paddingInner": 0.34, "paddingOuter": 0}}}},
            {"transform": [{"filter": "datum.phase === 'Decay'"}],
             "mark": {"type": "rect", "strokeWidth": 0, "fill": {"gradient": "linear", "x1": 0, "y1": 0, "x2": 0.9896, "y2": 1.0098, "stops": [
               {"offset": 0.0909, "color": "rgba(0,0,0,0)"}, {"offset": 0.0909, "color": "#111"}, {"offset": 0.1091, "color": "#111"}, {"offset": 0.1091, "color": "rgba(0,0,0,0)"},
               {"offset": 0.2909, "color": "rgba(0,0,0,0)"}, {"offset": 0.2909, "color": "#111"}, {"offset": 0.3091, "color": "#111"}, {"offset": 0.3091, "color": "rgba(0,0,0,0)"},
               {"offset": 0.4909, "color": "rgba(0,0,0,0)"}, {"offset": 0.4909, "color": "#111"}, {"offset": 0.5091, "color": "#111"}, {"offset": 0.5091, "color": "rgba(0,0,0,0)"},
               {"offset": 0.6909, "color": "rgba(0,0,0,0)"}, {"offset": 0.6909, "color": "#111"}, {"offset": 0.7091, "color": "#111"}, {"offset": 0.7091, "color": "rgba(0,0,0,0)"},
               {"offset": 0.8909, "color": "rgba(0,0,0,0)"}, {"offset": 0.8909, "color": "#111"}, {"offset": 0.9091, "color": "#111"}, {"offset": 0.9091, "color": "rgba(0,0,0,0)"}
             ]}},
             "encoding": {"y": {"field": "phase", "type": "nominal", "sort": ["Exponential", "Decay"], "axis": null, "scale": {"paddingInner": 0.34, "paddingOuter": 0}}}},
            {"transform": [{"filter": "datum.phase === 'Exponential'"}],
             "mark": {"type": "text", "align": "left", "baseline": "middle", "dx": 22, "dy": -51, "lineHeight": 102, "text": ["Polycyclic", "aromatics"]},
             "encoding": {"x": {"field": "compound", "type": "nominal", "bandPosition": 1}}}
          ]
        }
      ]
    }
  ]
}
